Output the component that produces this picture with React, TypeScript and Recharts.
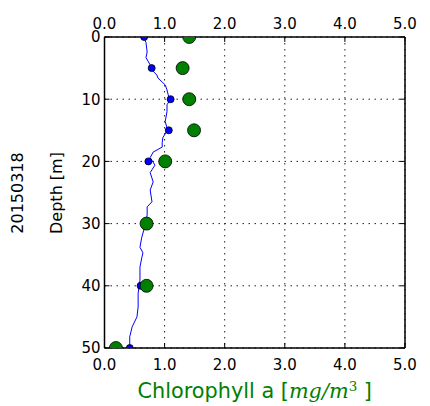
import React from 'react';
import { ScatterChart, Scatter, XAxis, YAxis, CartesianGrid } from 'recharts';

// Continuous fluorescence profile (blue line)
const profileDepth = [0.4, 0.9, 2.4, 3.3, 4.5, 5.3, 6.1, 6.6, 7.7, 8.5, 9.3, 10.1, 10.9, 12.0, 13.6, 14.6, 15.4, 16.2, 17.0, 17.7, 18.5, 19.4, 20.6, 21.8, 23.3, 24.6, 26.5, 27.3, 28.6, 30.5, 32.2, 33.8, 34.7, 35.5, 37.0, 39.1, 41.2, 43.4, 45.0, 46.6, 48.2, 49.8];
const profileChl = [0.67, 0.69, 0.71, 0.69, 0.76, 0.79, 0.87, 0.89, 1.01, 1.04, 1.06, 1.09, 1.04, 1.04, 1.01, 1.04, 1.02, 0.97, 0.96, 0.96, 0.81, 0.76, 0.84, 0.76, 0.81, 0.76, 0.79, 0.71, 0.71, 0.67, 0.62, 0.59, 0.64, 0.62, 0.59, 0.59, 0.56, 0.56, 0.54, 0.46, 0.42, 0.42];

// Discrete samples
const sampleDepth = [0, 5, 10, 15, 20, 30, 40, 50];
const sampleBlue = [0.66, 0.785, 1.1, 1.07, 0.73, 0.68, 0.6, 0.42];
const sampleGreen = [1.41, 1.3, 1.41, 1.49, 1.01, 0.7, 0.7, 0.19];

const xTicks = [0, 1, 2, 3, 4, 5];
const yTicks = [0, 10, 20, 30, 40, 50];

const W = 430;
const H = 406;

const tickStyle = { fontFamily: 'DejaVu Sans', fontSize: 15, fill: '#000' };

export default function App() {
  const profile = profileDepth.map((d, i) => ({ x: profileChl[i], y: d }));
  const blue = sampleDepth.map((d, i) => ({ x: sampleBlue[i], y: d }));
  const green = sampleDepth.map((d, i) => ({ x: sampleGreen[i], y: d }));

  return (
    <div style={{ position: 'absolute', left: 0, top: 0, width: W, height: H, background: '#fff' }}>
      <ScatterChart width={W} height={H} margin={{ top: 0, right: 24, bottom: 0, left: 0 }}>
        <CartesianGrid stroke="#222" strokeDasharray="1.5 4.5" strokeWidth={1} />
        <XAxis
          xAxisId={0}
          type="number"
          dataKey="x"
          domain={[0, 5]}
          ticks={xTicks}
          interval={0}
          orientation="bottom"
          height={58}
          tickSize={-5}
          tickMargin={16}
          tick={tickStyle}
          tickFormatter={(v: number) => v.toFixed(1)}
          axisLine={{ stroke: '#000', strokeWidth: 1.5 }}
          tickLine={{ stroke: '#000', strokeWidth: 1 }}
          allowDataOverflow
        />
        <XAxis
          xAxisId="top"
          type="number"
          dataKey="x"
          domain={[0, 5]}
          ticks={xTicks}
          interval={0}
          orientation="top"
          height={37}
          tickSize={-5}
          tickMargin={13}
          tick={tickStyle}
          tickFormatter={(v: number) => v.toFixed(1)}
          axisLine={{ stroke: '#000', strokeWidth: 1.5 }}
          tickLine={{ stroke: '#000', strokeWidth: 1 }}
          allowDataOverflow
        />
        <YAxis
          yAxisId={0}
          type="number"
          dataKey="y"
          domain={[0, 50]}
          reversed
          ticks={yTicks}
          interval={0}
          width={104.5}
          tickSize={-5}
          tickMargin={9}
          tick={tickStyle}
          axisLine={{ stroke: '#000', strokeWidth: 1.5 }}
          tickLine={{ stroke: '#000', strokeWidth: 1 }}
          allowDataOverflow
        />
        <YAxis
          yAxisId="right"
          orientation="right"
          type="number"
          dataKey="y"
          domain={[0, 50]}
          reversed
          ticks={yTicks}
          interval={0}
          width={1}
          tickSize={-5}
          tickFormatter={() => ''}
          axisLine={{ stroke: '#000', strokeWidth: 1.5 }}
          tickLine={{ stroke: '#000', strokeWidth: 1 }}
          allowDataOverflow
        />
        <Scatter
          data={profile}
          line={{ stroke: '#0000ff', strokeWidth: 1 }}
          lineType="joint"
          shape={() => <g />}
          isAnimationActive={false}
        />
        <Scatter
          data={blue}
          shape={(p: any) => <circle cx={p.cx} cy={p.cy} r={3.5} fill="#0000ff" stroke="#000" strokeWidth={0.8} />}
          isAnimationActive={false}
        />
        <Scatter
          data={green}
          shape={(p: any) => <circle cx={p.cx} cy={p.cy} r={6.5} fill="#008000" stroke="#000" strokeWidth={0.8} />}
          isAnimationActive={false}
        />
      </ScatterChart>
      <div
        style={{
          position: 'absolute', left: 17.5, top: 192.5, transform: 'translate(-50%, -50%) rotate(-90deg)',
          fontFamily: 'DejaVu Sans', fontSize: 16, lineHeight: '16px', whiteSpace: 'nowrap', color: '#000',
        }}
      >
        20150318
      </div>
      <div
        style={{
          position: 'absolute', left: 57, top: 192.5, transform: 'translate(-50%, -50%) rotate(-90deg)',
          fontFamily: 'DejaVu Sans', fontSize: 16, lineHeight: '16px', whiteSpace: 'nowrap', color: '#000',
        }}
      >
        Depth [m]
      </div>
      <div
        style={{
          position: 'absolute', left: 104.5, width: 300.5, top: 381, textAlign: 'center',
          fontFamily: 'DejaVu Sans', fontSize: 20.8, lineHeight: '21px', whiteSpace: 'nowrap', color: '#008000',
        }}
      >
        Chlorophyll a [
        <span style={{ fontFamily: 'DejaVu Serif', fontStyle: 'italic' }}>mg/m</span>
        <sup style={{ fontFamily: 'DejaVu Serif', fontSize: 13.5, lineHeight: '0px', verticalAlign: '0.5em' }}>3</sup>
        {' ]'}
      </div>
    </div>
  );
}
